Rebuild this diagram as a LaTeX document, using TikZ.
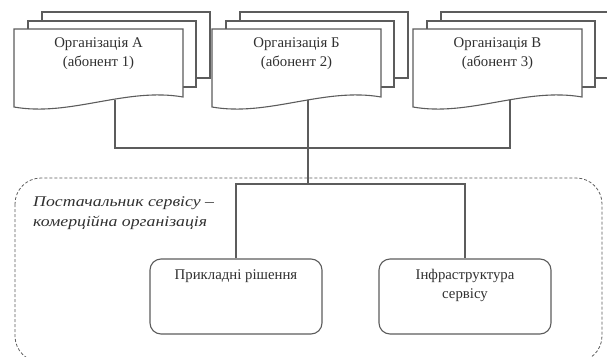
\documentclass[tikz,border=0pt]{standalone}
\usepackage{fontspec}
\setmainfont{Liberation Serif}
\newfontfamily\provfont{Liberation Serif}[FakeStretch=1.2]
\definecolor{ln}{HTML}{5C5C5C}
\definecolor{tx}{HTML}{303030}
\tikzset{
  conn/.style={draw=ln, line width=1.2pt},
  page/.style={draw=ln, fill=white, line width=1.1pt},
  txt/.style={text=tx, font=\fontsize{14.8}{19}\selectfont, align=center, inner sep=0pt},
  unitbox/.style={draw=ln, line width=1.1pt, rounded corners=11pt, minimum width=172pt, minimum height=75pt, inner sep=0pt},
  orgdoc/.pic={
    \draw[page] (28,-17) rectangle (196,49);
    \draw[page] (14,-8) rectangle (182,58);
    \draw[page] (0,0) -- (169,0) -- (169,68) .. controls (112,58) and (56,88) .. (0,78) -- cycle;
    \node[txt] (-txt) at (84.5,24.5) {#1};
  }
}
\begin{document}
\begin{tikzpicture}[x=1pt,y=-1pt]
\useasboundingbox (0,0) rectangle (607,356);
\clip (0,0) rectangle (607,356);

% provider dashed frame
\draw[ln, line width=0.8pt, dash pattern=on 3pt off 2pt, rounded corners=26pt] (15,178) rectangle (602,362);
\node[txt, anchor=west, align=left, font=\fontsize{14.8}{19.5}\provfont\itshape] (prov) at (33,213) {Постачальник сервісу –\\комерційна організація};

% service units
\node[unitbox] (L) at (236,296.5) {};
\node[unitbox] (R) at (465,296.5) {};
\node[txt, anchor=north] (Ltxt) at ([yshift=-11pt]L.north) {Прикладні рішення};
\node[txt, anchor=north] (Rtxt) at ([yshift=-11pt]R.north) {Інфраструктура\\сервісу};

% connector coordinates
\coordinate (Abot) at (115,100);
\coordinate (Bbot) at (308,100);
\coordinate (Cbot) at (510,100);
\coordinate (bus) at (308,148);
\coordinate (hub) at (308,184);

\draw[conn] (Abot) |- (bus) -| (Cbot);
\draw[conn] (Bbot) -- (hub);
\draw[conn] (L.north) |- (hub) -| (R.north);

% subscriber documents
\pic (A) at (14,29) {orgdoc={Організація А\\(абонент 1)}};
\pic (B) at (212,29) {orgdoc={Організація Б\\(абонент 2)}};
\pic (C) at (413,29) {orgdoc={Організація В\\(абонент 3)}};
\end{tikzpicture}
\end{document}
